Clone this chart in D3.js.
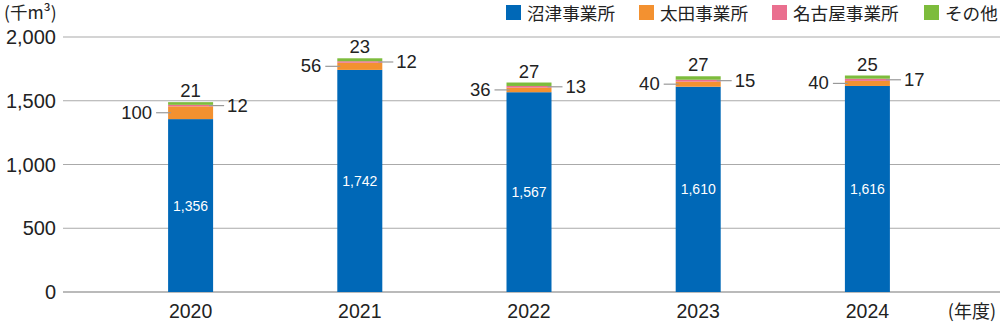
<!DOCTYPE html>
<html><head><meta charset="utf-8">
<script src="https://cdn.jsdelivr.net/npm/d3@7"></script>
<style>
body{margin:0;background:#fff;}
text{font-family:"Liberation Sans",Arial,"Noto Sans CJK JP",sans-serif;}
.jp{font-family:"Noto Sans CJK JP",sans-serif;}
</style></head>
<body><svg id="c" width="1000" height="324"></svg>
<script>
const years = ["2020","2021","2022","2023","2024"];
const numazu = [1356,1742,1567,1610,1616];
const ota = [100,56,36,40,40];
const nagoya = [12,12,13,15,17];
const other = [21,23,27,27,25];
const seriesNames = ["沼津事業所","太田事業所","名古屋事業所","その他"];
const colors = ["#0068b7","#f39130","#ea6f8f","#7dbc3c"];
const yTicks = [0,500,1000,1500,2000];

const svg = d3.select("#c");
const y = d3.scaleLinear().domain([0,2000]).range([292,37]);
const x = d3.scaleBand().domain(years).range([106,952]);
const bw = 45;
const cx = d => x(d) + x.bandwidth()/2;

svg.selectAll(".grid").data(yTicks).enter().append("line")
  .attr("x1",63).attr("x2",1000)
  .attr("y1",d=>y(d)).attr("y2",d=>y(d))
  .attr("stroke",d=>d===0?"#777":"#aaa").attr("stroke-width",1.2);
svg.selectAll(".yl").data(yTicks).enter().append("text")
  .attr("x",56).attr("y",d=>y(d)+7).attr("text-anchor","end")
  .attr("font-size",20).attr("fill","#222").text(d=>d3.format(",")(d));

const data = [numazu,ota,nagoya,other];
const stack = years.map((yr,i)=>{let c=0;return data.map((s,k)=>{const o={k,y0:c,y1:c+s[i],v:s[i]};c+=s[i];return o;});});

years.forEach((yr,i)=>{
  const g = svg.append("g");
  g.selectAll("rect").data(stack[i]).enter().append("rect")
    .attr("x",cx(yr)-bw/2).attr("width",bw)
    .attr("y",d=>y(d.y1)).attr("height",d=>y(d.y0)-y(d.y1))
    .attr("fill",d=>colors[d.k]);
  const s = stack[i];
  g.append("text").attr("x",cx(yr)).attr("y",y((s[0].y0+s[0].y1)/2)+5)
    .attr("text-anchor","middle").attr("font-size",14).attr("fill","#fff")
    .text(d3.format(",")(s[0].v));
  const yo = y((s[1].y0+s[1].y1)/2);
  g.append("line").attr("x1",cx(yr)-bw/2-12).attr("x2",cx(yr)-bw/2+3)
    .attr("y1",yo).attr("y2",yo).attr("stroke","#999").attr("stroke-width",1.2);
  g.append("text").attr("x",cx(yr)-bw/2-16).attr("y",yo+6).attr("text-anchor","end")
    .attr("font-size",18.5).attr("fill","#222").text(s[1].v);
  const yn = y((s[2].y0+s[2].y1)/2);
  g.append("line").attr("x1",cx(yr)+bw/2-4).attr("x2",cx(yr)+bw/2+11)
    .attr("y1",yn).attr("y2",yn).attr("stroke","#999").attr("stroke-width",1.2);
  g.append("text").attr("x",cx(yr)+bw/2+14).attr("y",yn+6)
    .attr("font-size",18.5).attr("fill","#222").text(s[2].v);
  g.append("text").attr("x",cx(yr)).attr("y",y(s[3].y1)-5).attr("text-anchor","middle")
    .attr("font-size",18.5).attr("fill","#222").text(s[3].v);
});

svg.selectAll(".xl").data(years).enter().append("text")
  .attr("x",d=>cx(d)).attr("y",318).attr("text-anchor","middle")
  .attr("font-size",19.5).attr("fill","#222").text(d=>d);

svg.append("text").attr("class","jp").attr("x",4).attr("y",19).attr("font-size",17.5).attr("fill","#222").text("(千m³)");
svg.append("text").attr("class","jp").attr("x",996).attr("y",318).attr("text-anchor","end").attr("font-size",18).attr("fill","#222").text("(年度)");

const lx = [506,639,772,924];
seriesNames.forEach((n,k)=>{
  svg.append("rect").attr("x",lx[k]).attr("y",5).attr("width",15).attr("height",15).attr("fill",colors[k]);
  svg.append("text").attr("class","jp").attr("x",lx[k]+21).attr("y",19.5).attr("font-size",17.6).attr("fill","#222").text(n);
});
</script></body></html>
